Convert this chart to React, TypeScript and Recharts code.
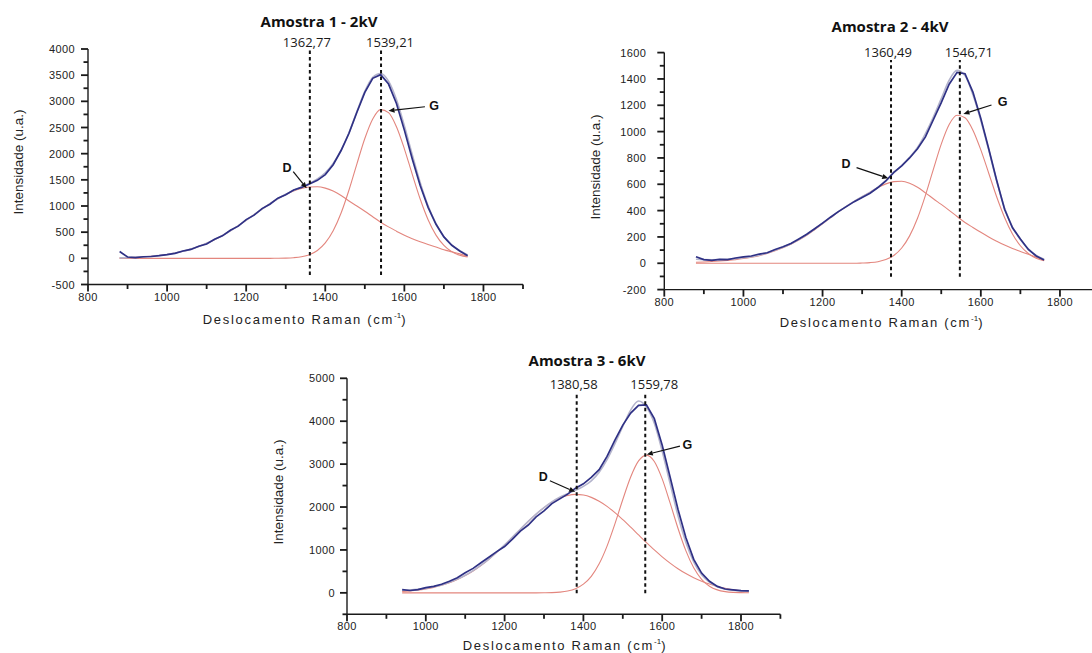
import React from "react";
import { LineChart, Line, XAxis, YAxis, ReferenceLine, ReferenceDot } from "recharts";

// Deslocamento Raman (cm-1), passo de 20
const deslocamentoA = [880, 900, 920, 940, 960, 980, 1000, 1020, 1040, 1060, 1080, 1100, 1120, 1140, 1160, 1180, 1200, 1220, 1240, 1260, 1280, 1300, 1320, 1340, 1360, 1380, 1400, 1420, 1440, 1460, 1480, 1500, 1520, 1540, 1560, 1580, 1600, 1620, 1640, 1660, 1680, 1700, 1720, 1740, 1760];
const deslocamentoB = [940, 960, 980, 1000, 1020, 1040, 1060, 1080, 1100, 1120, 1140, 1160, 1180, 1200, 1220, 1240, 1260, 1280, 1300, 1320, 1340, 1360, 1380, 1400, 1420, 1440, 1460, 1480, 1500, 1520, 1540, 1560, 1580, 1600, 1620, 1640, 1660, 1680, 1700, 1720, 1740, 1760, 1780, 1800, 1820];

// Amostra 1 - 2kV
const amostra1Medido = [130, 25, 15, 30, 35, 50, 70, 95, 140, 170, 230, 275, 365, 430, 535, 615, 740, 825, 950, 1035, 1150, 1215, 1305, 1355, 1420, 1490, 1600, 1790, 2060, 2390, 2790, 3170, 3440, 3510, 3330, 2960, 2450, 1900, 1390, 975, 650, 410, 250, 140, 50];
const amostra1Ajuste = [8, 13, 19, 27, 39, 54, 74, 101, 134, 176, 226, 287, 357, 438, 527, 625, 729, 835, 941, 1044, 1139, 1224, 1299, 1365, 1432, 1517, 1635, 1811, 2067, 2401, 2805, 3191, 3459, 3533, 3386, 3034, 2533, 1980, 1451, 1004, 662, 411, 250, 144, 66];
const amostra1BandaD = [8, 13, 19, 27, 39, 54, 74, 101, 134, 176, 226, 287, 357, 438, 527, 625, 729, 835, 941, 1044, 1138, 1220, 1287, 1335, 1362, 1367, 1341, 1285, 1202, 1096, 1000, 901, 795, 691, 601, 519, 440, 375, 317, 265, 218, 165, 125, 85, 40];
const amostra1BandaG = [0, 0, 0, 0, 0, 0, 0, 0, 0, 0, 0, 0, 0, 0, 0, 0, 0, 0, 0, 0, 1, 4, 12, 30, 70, 150, 294, 526, 865, 1305, 1805, 2290, 2664, 2842, 2785, 2515, 2093, 1605, 1134, 739, 444, 246, 125, 59, 26];
const amostra1Picos = [1361, 1541];
const amostra1PicosTexto = ["1362,77", "1539,21"];

// Amostra 2 - 4kV
const amostra2Medido = [50, 28, 22, 30, 28, 40, 48, 55, 70, 80, 105, 125, 150, 185, 220, 262, 305, 350, 392, 430, 468, 500, 532, 575, 625, 690, 740, 800, 870, 960, 1090, 1220, 1360, 1450, 1440, 1300, 1100, 870, 630, 410, 270, 185, 105, 55, 25];
const amostra2Ajuste = [30, 28, 27, 28, 30, 35, 42, 50, 62, 78, 100, 122, 148, 180, 218, 260, 304, 348, 392, 432, 470, 505, 538, 578, 627, 688, 742, 805, 880, 985, 1110, 1250, 1390, 1465, 1425, 1280, 1085, 860, 625, 420, 275, 180, 110, 60, 30];
const amostra2BandaD = [8, 10, 13, 17, 22, 28, 36, 46, 58, 74, 95, 118, 145, 176, 212, 255, 300, 345, 390, 432, 470, 505, 540, 575, 603, 620, 623, 608, 578, 535, 490, 447, 402, 355, 310, 272, 235, 200, 168, 138, 112, 90, 68, 45, 20];
const amostra2BandaG = [0, 0, 0, 0, 0, 0, 0, 0, 0, 0, 0, 0, 0, 0, 0, 0, 0, 0, 0, 0, 0, 2, 5, 12, 28, 59, 116, 208, 342, 516, 713, 905, 1054, 1124, 1105, 1011, 861, 684, 505, 348, 223, 133, 74, 38, 19];
const amostra2Picos = [1373, 1547];
const amostra2PicosTexto = ["1360,49", "1546,71"];

// Amostra 3 - 6kV
const amostra3Medido = [75, 55, 75, 120, 150, 200, 270, 350, 470, 570, 700, 830, 960, 1080, 1250, 1440, 1580, 1770, 1910, 2080, 2190, 2300, 2440, 2540, 2690, 2870, 3180, 3560, 3910, 4190, 4370, 4380, 4060, 3440, 2700, 1950, 1290, 780, 460, 270, 150, 90, 70, 50, 48];
const amostra3Ajuste = [60, 65, 80, 105, 140, 185, 245, 320, 410, 518, 645, 788, 948, 1118, 1300, 1483, 1664, 1834, 1988, 2120, 2227, 2312, 2392, 2482, 2610, 2811, 3104, 3477, 3880, 4260, 4470, 4330, 3950, 3300, 2550, 1800, 1180, 720, 420, 250, 140, 85, 60, 45, 40];
const amostra3BandaD = [31, 45, 65, 93, 128, 175, 235, 310, 401, 510, 637, 781, 942, 1114, 1297, 1481, 1663, 1834, 1986, 2114, 2210, 2270, 2295, 2280, 2225, 2135, 2015, 1870, 1705, 1530, 1350, 1172, 1000, 840, 694, 563, 450, 353, 272, 205, 150, 106, 72, 45, 25];
const amostra3BandaG = [0, 0, 0, 0, 0, 0, 0, 0, 0, 0, 0, 0, 0, 0, 0, 0, 0, 0, 2, 6, 17, 42, 97, 202, 385, 676, 1089, 1607, 2175, 2700, 3074, 3210, 3062, 2656, 2096, 1506, 983, 584, 316, 155, 69, 28, 10, 4, 1];
const amostra3Picos = [1383, 1557];
const amostra3PicosTexto = ["1380,58", "1559,78"];

const xMaiores = [800, 1000, 1200, 1400, 1600, 1800];
const xMenores = [900, 1100, 1300, 1500, 1700, 1900];

const AZUL = "#2f3185";
const CINZA = "#b4b4cc";
const VERMELHO = "#e3867e";
const EIXO = "#1a1a1a";
const TAM_TICK = 8;

type Rotulo = { texto: string; x: number; y: number; de: [number, number]; para: [number, number] };

type Painel = {
  titulo: string;
  tituloPos: [number, number];
  xTituloPos: [number, number];
  yTituloPos: [number, number];
  margem: { top: number; right: number; bottom: number; left: number };
  xDominio: [number, number];
  yDominio: [number, number];
  yMaiores: number[];
  yMenores: number[];
  yFolga: number;
  deslocamento: number[];
  medido: number[];
  ajuste: number[];
  bandaD: number[];
  bandaG: number[];
  picos: number[];
  picosTexto: string[];
  picoFaixa: [number, number];
  rotulos: Rotulo[];
};

const pontos = (xs: number[], ys: number[]) => xs.map((x, i) => ({ x, y: ys[i] }));

// margens já descontam 1 px de largura/altura dos eixos
const paineis: Painel[] = [
  {
    titulo: "Amostra 1 - 2kV",
    tituloPos: [319, 21],
    xTituloPos: [305, 319],
    yTituloPos: [19, 162],
    margem: { top: 49, right: 569, bottom: 367.5, left: 87 },
    xDominio: [800, 1900],
    yDominio: [-500, 4000],
    yMaiores: [-500, 0, 500, 1000, 1500, 2000, 2500, 3000, 3500, 4000],
    yMenores: [-250, 250, 750, 1250, 1750, 2250, 2750, 3250, 3750],
    yFolga: 13,
    deslocamento: deslocamentoA,
    medido: amostra1Medido,
    ajuste: amostra1Ajuste,
    bandaD: amostra1BandaD,
    bandaG: amostra1BandaG,
    picos: amostra1Picos,
    picosTexto: amostra1PicosTexto,
    picoFaixa: [-319, 3980],
    rotulos: [
      { texto: "D", x: 1303, y: 1731, de: [1319, 1655], para: [1353, 1338] },
      { texto: "G", x: 1675, y: 2916, de: [1652, 2897], para: [1560, 2821] },
    ],
  },
  {
    titulo: "Amostra 2 - 4kV",
    tituloPos: [890, 25.5],
    xTituloPos: [882, 322],
    yTituloPos: [596, 167],
    margem: { top: 52.6, right: 0, bottom: 362.4, left: 663.3 },
    xDominio: [800, 1881],
    yDominio: [-200, 1600],
    yMaiores: [-200, 0, 200, 400, 600, 800, 1000, 1200, 1400, 1600],
    yMenores: [-100, 100, 300, 500, 700, 900, 1100, 1300, 1500],
    yFolga: 18,
    deslocamento: deslocamentoA,
    medido: amostra2Medido,
    ajuste: amostra2Ajuste,
    bandaD: amostra2BandaD,
    bandaG: amostra2BandaG,
    picos: amostra2Picos,
    picosTexto: amostra2PicosTexto,
    picoFaixa: [-102, 1544],
    rotulos: [
      { texto: "D", x: 1259, y: 759, de: [1286, 726], para: [1366, 645] },
      { texto: "G", x: 1655, y: 1227, de: [1627, 1202], para: [1556, 1134] },
    ],
  },
  {
    titulo: "Amostra 3 - 6kV",
    tituloPos: [587, 360],
    xTituloPos: [565, 645],
    yTituloPos: [279, 492],
    margem: { top: 378.3, right: 311.6, bottom: 37.7, left: 346 },
    xDominio: [800, 1900],
    yDominio: [-500, 5000],
    yMaiores: [0, 1000, 2000, 3000, 4000, 5000],
    yMenores: [-500, 500, 1500, 2500, 3500, 4500],
    yFolga: 12,
    deslocamento: deslocamentoB,
    medido: amostra3Medido,
    ajuste: amostra3Ajuste,
    bandaD: amostra3BandaD,
    bandaG: amostra3BandaG,
    picos: amostra3Picos,
    picosTexto: amostra3PicosTexto,
    picoFaixa: [-10, 4685],
    rotulos: [
      { texto: "D", x: 1298, y: 2704, de: [1315, 2611], para: [1379, 2354] },
      { texto: "G", x: 1664, y: 3459, de: [1645, 3420], para: [1561, 3226] },
    ],
  },
];

const fonteEixo = "'Liberation Sans', Arial, sans-serif";

const Seta = (p: any) => {
  const { x1, y1, x2, y2 } = p;
  const a = Math.atan2(y2 - y1, x2 - x1);
  const c = Math.cos(a);
  const s = Math.sin(a);
  const bx = x2 - 6 * c;
  const by = y2 - 6 * s;
  const pts = `${x2},${y2} ${bx - 2.6 * s},${by + 2.6 * c} ${bx + 2.6 * s},${by - 2.6 * c}`;
  return (
    <g>
      <line x1={x1} y1={y1} x2={bx} y2={by} stroke="#111" strokeWidth={1.2} />
      <polygon points={pts} fill="#111" />
    </g>
  );
};

function Grafico({ p }: { p: Painel }) {
  const [xMin, xMax] = p.xDominio;
  const xTicks = [...xMaiores, ...xMenores].filter((v) => v >= xMin && v <= xMax).sort((a, b) => a - b);
  const yTicks = [...p.yMaiores, ...p.yMenores].sort((a, b) => a - b);

  // traços de escala como retângulos cheios; rótulos só nos maiores
  const xTick = (t: any) => {
    const maior = xMaiores.includes(t.payload.value);
    const ay = t.y - TAM_TICK;
    return (
      <g>
        <rect x={t.x - 0.9} y={ay} width={1.8} height={maior ? 7 : 4.5} fill={EIXO} />
        {maior && (
          <text x={t.x} y={ay + 16} textAnchor="middle" fontSize={11} letterSpacing={0.4} fill="#222" fontFamily={fonteEixo}>
            {t.payload.value}
          </text>
        )}
      </g>
    );
  };

  const yTick = (t: any) => {
    const maior = p.yMaiores.includes(t.payload.value);
    const w = maior ? 7 : 4.5;
    const ax = t.x + TAM_TICK;
    return (
      <g>
        <rect x={ax - w} y={t.y - 0.9} width={w} height={1.8} fill={EIXO} />
        {maior && (
          <text x={ax - p.yFolga} y={t.y + 4} textAnchor="end" fontSize={11} letterSpacing={0.4} fill="#222" fontFamily={fonteEixo}>
            {t.payload.value}
          </text>
        )}
      </g>
    );
  };

  return (
    <div style={{ position: "absolute", left: 0, top: 0 }}>
      <LineChart width={1092} height={653} margin={p.margem}>
        <XAxis
          type="number"
          dataKey="x"
          domain={p.xDominio}
          ticks={xTicks}
          interval={0}
          height={1}
          tickSize={TAM_TICK}
          tickMargin={0}
          tick={xTick}
          tickLine={false}
          axisLine={{ stroke: EIXO, strokeWidth: 1.4 }}
        />
        <YAxis
          type="number"
          dataKey="y"
          domain={p.yDominio}
          ticks={yTicks}
          interval={0}
          width={1}
          tickSize={TAM_TICK}
          tickMargin={0}
          tick={yTick}
          tickLine={false}
          axisLine={{ stroke: EIXO, strokeWidth: 1.4 }}
        />
        <Line data={pontos(p.deslocamento, p.bandaD)} dataKey="y" type="monotone" stroke={VERMELHO} strokeWidth={1.1} dot={false} isAnimationActive={false} />
        <Line data={pontos(p.deslocamento, p.bandaG)} dataKey="y" type="monotone" stroke={VERMELHO} strokeWidth={1.1} dot={false} isAnimationActive={false} />
        <Line data={pontos(p.deslocamento, p.ajuste)} dataKey="y" type="monotone" stroke={CINZA} strokeWidth={1.6} dot={false} isAnimationActive={false} />
        <Line data={pontos(p.deslocamento, p.medido)} dataKey="y" type="linear" stroke={AZUL} strokeWidth={1.7} dot={false} isAnimationActive={false} />
        {p.picos.map((x, i) => (
          <ReferenceLine
            key={"pico" + i}
            segment={[
              { x, y: p.picoFaixa[0] },
              { x, y: p.picoFaixa[1] },
            ]}
            stroke="#111"
            strokeWidth={2}
            strokeDasharray="3.5 3"
          />
        ))}
        {p.picos.map((x, i) => (
          <ReferenceDot
            key={"texto" + i}
            x={x}
            y={p.picoFaixa[1]}
            r={0}
            shape={(d: any) => (
              <text x={d.cx + (i === 0 ? -3 : 9)} y={d.cy - 3} textAnchor="middle" fontSize={13} fill="#1a1a1a" fontFamily="'Open Sans', sans-serif">
                {p.picosTexto[i]}
              </text>
            )}
          />
        ))}
        {p.rotulos.map((r) => (
          <ReferenceLine
            key={"seta" + r.texto}
            segment={[
              { x: r.de[0], y: r.de[1] },
              { x: r.para[0], y: r.para[1] },
            ]}
            shape={Seta}
          />
        ))}
        {p.rotulos.map((r) => (
          <ReferenceDot
            key={"rot" + r.texto}
            x={r.x}
            y={r.y}
            r={0}
            shape={(d: any) => (
              <text x={d.cx} y={d.cy + 4.5} textAnchor="middle" fontSize={12.5} fontWeight="bold" fill="#111" fontFamily={fonteEixo}>
                {r.texto}
              </text>
            )}
          />
        ))}
      </LineChart>
      <div
        style={{
          position: "absolute",
          left: p.tituloPos[0],
          top: p.tituloPos[1],
          transform: "translate(-50%, -50%)",
          whiteSpace: "nowrap",
          fontFamily: "'Open Sans', sans-serif",
          fontWeight: 700,
          fontSize: 15,
          color: "#111",
          lineHeight: 1,
        }}
      >
        {p.titulo}
      </div>
      <div
        style={{
          position: "absolute",
          left: p.xTituloPos[0],
          top: p.xTituloPos[1],
          transform: "translate(-50%, -50%)",
          whiteSpace: "nowrap",
          fontFamily: fonteEixo,
          fontSize: 13,
          letterSpacing: 1.7,
          color: "#222",
          lineHeight: 1,
        }}
      >
        Deslocamento Raman (cm<sup style={{ fontSize: 8, letterSpacing: 0, verticalAlign: "6px", lineHeight: 0 }}>-1</sup>)
      </div>
      <div
        style={{
          position: "absolute",
          left: p.yTituloPos[0],
          top: p.yTituloPos[1],
          transform: "translate(-50%, -50%) rotate(-90deg)",
          whiteSpace: "nowrap",
          fontFamily: "'Liberation Sans Narrow', 'Liberation Sans', Arial, sans-serif",
          fontSize: 13.5,
          color: "#222",
          lineHeight: 1,
        }}
      >
        Intensidade (u.a.)
      </div>
    </div>
  );
}

export default function App() {
  return (
    <div style={{ position: "fixed", left: 0, top: 0, width: 1092, height: 653, background: "#fff", overflow: "hidden" }}>
      {paineis.map((p) => (
        <Grafico key={p.titulo} p={p} />
      ))}
    </div>
  );
}
